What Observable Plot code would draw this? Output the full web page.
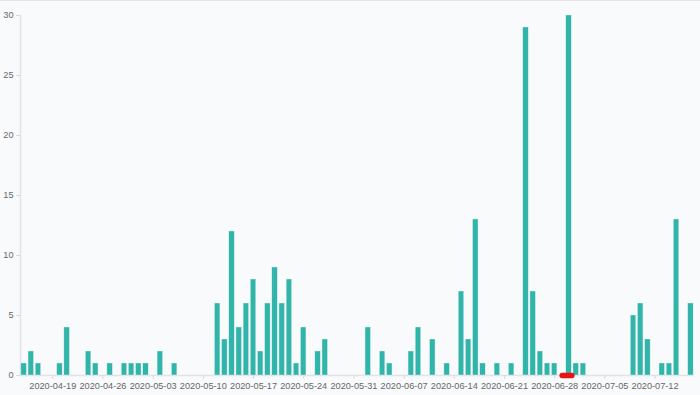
<!DOCTYPE html>
<html>
<head>
<meta charset="utf-8">
<script src="https://cdn.jsdelivr.net/npm/d3@7"></script>
<script src="https://cdn.jsdelivr.net/npm/@observablehq/plot@0.6"></script>
<style>
  html, body { margin: 0; padding: 0; background: #f9fafc; }
  #wrap { position: relative; width: 700px; height: 395px; overflow: hidden; }
  #topline { position: absolute; left: 0; top: 0; width: 700px; height: 1px; background: #e2e4ea; }
</style>
</head>
<body>
<div id="wrap"><div id="topline"></div></div>
<script>
const startDate = "2020-04-15";
const endDate = "2020-07-17";
const values = [
  1, 2, 1, 0, 0, 1, 4, 0, 0, 2,
  1, 0, 1, 0, 1, 1, 1, 1, 0, 2,
  0, 1, 0, 0, 0, 0, 0, 6, 3, 12,
  4, 6, 8, 2, 6, 9, 6, 8, 1, 4,
  0, 2, 3, 0, 0, 0, 0, 0, 4, 0,
  2, 1, 0, 0, 2, 4, 0, 3, 0, 1,
  0, 7, 3, 13, 1, 0, 1, 0, 1, 0,
  29, 7, 2, 1, 1, 0, 30, 1, 1, 0,
  0, 0, 0, 0, 0, 5, 6, 3, 0, 1,
  1, 13, 0, 6
];
const tickLabels = ["2020-04-19", "2020-04-26", "2020-05-03", "2020-05-10", "2020-05-17",
  "2020-05-24", "2020-05-31", "2020-06-07", "2020-06-14", "2020-06-21", "2020-06-28",
  "2020-07-05", "2020-07-12"];
const yTicks = [0, 5, 10, 15, 20, 25, 30];
const markerDate = ["2020-06-30"];

const fmt = d3.utcFormat("%Y-%m-%d");
const dates = d3.utcDay.range(new Date(startDate), d3.utcDay.offset(new Date(endDate), 1)).map(fmt);
const data = dates.map((d, i) => ({date: d, value: values[i]}));

const capsule = {
  draw(ctx) {
    const r = 2.8, w = 4.8;
    ctx.moveTo(-w, -r);
    ctx.lineTo(w, -r);
    ctx.arc(w, 0, r, -Math.PI / 2, Math.PI / 2);
    ctx.lineTo(-w, r);
    ctx.arc(-w, 0, r, Math.PI / 2, 3 * Math.PI / 2);
    ctx.closePath();
  }
};

const chart = Plot.plot({
  width: 700,
  height: 395,
  marginTop: 15,
  marginBottom: 20,
  marginLeft: 20,
  marginRight: 6,
  style: {background: "transparent", fontFamily: "'Liberation Sans', Arial, sans-serif", fontSize: "9px", color: "#666"},
  x: {type: "band", domain: dates, paddingInner: 0.24, paddingOuter: 0.12, align: 0.5, round: false, axis: null},
  y: {domain: [0, 30], axis: null},
  marks: [
    Plot.ruleY([0], {stroke: "#e0e3e8", strokeWidth: 1.5}),
    Plot.frame({anchor: "left", stroke: "#e0e3e8", strokeWidth: 1.5}),
    Plot.barY(data.filter(d => d.value > 0), {x: "date", y: "value", fill: "#31b5ab", stroke: "#dff3f0", strokeWidth: 0.4}),
    Plot.axisX(tickLabels, {label: null, tickSize: 4, tickPadding: 3, stroke: "#d8dbe2", fill: "#666", fontSize: 9.2, tickFormat: d => d}),
    Plot.axisY(yTicks, {label: null, tickSize: 4, tickPadding: 3, stroke: "#d8dbe2", fill: "#666", fontSize: 9.2}),
    Plot.dot(markerDate, {x: d => d, y: () => 0, dx: -2, symbol: capsule, fill: "#ee1111", stroke: "none"})
  ]
});
document.getElementById("wrap").appendChild(chart);
</script>
</body>
</html>
